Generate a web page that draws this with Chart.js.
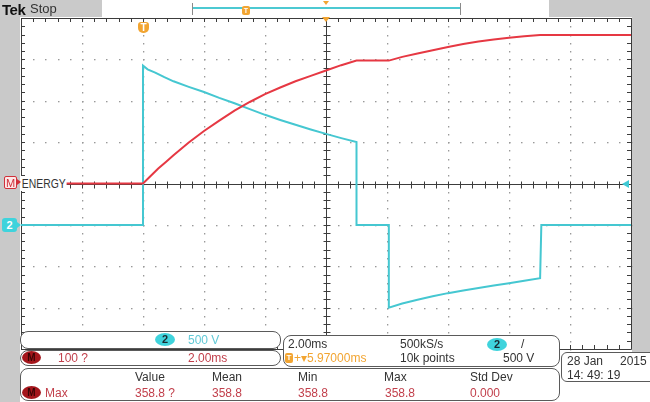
<!DOCTYPE html>
<html><head><meta charset="utf-8">
<script src="https://cdn.jsdelivr.net/npm/chart.js@4/dist/chart.umd.min.js"></script>
<style>
html,body{margin:0;padding:0;background:#fff;}
#wrap{position:relative;width:650px;height:402px;overflow:hidden;font-family:"Liberation Sans",Arial,sans-serif;background:#fff;}
#c{position:absolute;left:0;top:0;}
.a{position:absolute;white-space:nowrap;line-height:1;}
.g{position:absolute;background:#c9c9c9;}
.panel{position:absolute;background:#fff;border:1px solid #5a5a5a;border-radius:8px;box-sizing:border-box;}
.cb{position:absolute;background:#3fd3dc;border-radius:50%;width:20px;height:13px;font:bold 11px "Liberation Sans",Arial,sans-serif;color:#1a2a30;text-align:center;line-height:13px;}
.mb{position:absolute;background:#a4161c;border-radius:50%;width:19px;height:13px;font:bold 10px "Liberation Sans",Arial,sans-serif;color:#3a0505;text-align:center;line-height:13px;}
.t12{font-size:12px;}
.red{color:#c2404c;}
.cy{color:#62c9d6;}
.dk{color:#333;}
.or{color:#f2a532;}
</style></head>
<body>
<div id="wrap">
  <!-- frame / background pieces -->
  <div class="g" style="left:0;top:0;width:102px;height:17px;background:#cacaca"></div>
  <div class="g" style="left:549px;top:0;width:101px;height:17px;"></div>
  <div class="g" style="left:0;top:17px;width:20px;height:385px;"></div>
  <div class="g" style="left:632px;top:17px;width:18px;height:335px;"></div>
  <canvas id="c" width="650" height="402"></canvas>

  <!-- top status bar -->
  <div class="a" style="left:2px;top:1px;font:bold 15px 'Liberation Sans',Arial,sans-serif;color:#111;letter-spacing:-0.5px">Tek</div>
  <div class="a dk" style="left:30px;top:2px;font-size:13px;color:#333">Stop</div>
  <div class="a" style="left:193px;top:7px;width:267px;height:2px;background:#4cc9d2"></div>
  <div class="a" style="left:192px;top:3px;width:1px;height:12px;background:#8a8a8a"></div>
  <div class="a" style="left:460px;top:3px;width:1px;height:12px;background:#8a8a8a"></div>
  <div class="a" style="left:242px;top:6px;width:8px;height:9px;background:#f2a532;border-radius:2px;color:#fff;font:bold 7px Arial;text-align:center;line-height:9px">T</div>
  <div class="a" style="left:323px;top:1px;width:0;height:0;border-left:3px solid transparent;border-right:3px solid transparent;border-top:4px solid #f2a532"></div>

  <!-- graticule markers -->
  <div class="a" style="left:322px;top:17px;width:0;height:0;border-left:4px solid transparent;border-right:4px solid transparent;border-top:5px solid #f2a532"></div>
  <div class="a" style="left:138px;top:22px;width:11px;height:11px;background:#f2a532;border-radius:3px 3px 5px 5px;color:#fff;font:bold 10px Arial;text-align:center;line-height:11px">T</div>
  <div class="a" style="left:622px;top:180px;width:0;height:0;border-top:4px solid transparent;border-bottom:4px solid transparent;border-right:7px solid #3fc9d4"></div>
  <div class="a" style="left:4px;top:176px;width:13px;height:13px;border:1px solid #d0303a;border-radius:2px;background:#fde8e8;color:#d0303a;font:11px 'Liberation Sans',Arial;text-align:center;line-height:13px;box-sizing:border-box">M</div>
  <div class="a" style="left:17px;top:179px;width:0;height:0;border-top:3px solid transparent;border-bottom:3px solid transparent;border-left:4px solid #d0303a"></div>
  <div class="a" style="left:21px;top:176px;background:#fff;font:13px 'Liberation Sans',Arial;color:#333;transform:scaleX(0.8);transform-origin:0 0;padding:0 1px">ENERGY</div>
  <div class="a" style="left:2px;top:218px;width:15px;height:14px;background:#3fd3dc;border-radius:3px;color:#fff;font:bold 11px Arial;text-align:center;line-height:14px">2</div>
  <div class="a" style="left:17px;top:222px;width:0;height:0;border-top:3px solid transparent;border-bottom:3px solid transparent;border-left:4px solid #3fd3dc"></div>

  <!-- readout panels -->
  <div class="panel" style="left:20px;top:331px;width:261px;height:18px;"></div>
  <div class="cb" style="left:155px;top:333px">2</div>
  <div class="a t12 cy" style="left:188px;top:334px">500 V</div>

  <div class="panel" style="left:20px;top:350px;width:261px;height:16px;"></div>
  <div class="mb" style="left:22px;top:351px">M</div>
  <div class="a t12 red" style="left:58px;top:352px">100 ?</div>
  <div class="a t12 red" style="left:188px;top:352px">2.00ms</div>

  <div class="panel" style="left:283px;top:335px;width:277px;height:32px;"></div>
  <div class="a t12 dk" style="left:288px;top:338px">2.00ms</div>
  <div class="a t12 dk" style="left:400px;top:338px">500kS/s</div>
  <div class="cb" style="left:487px;top:338px">2</div>
  <div class="a t12 dk" style="left:521px;top:338px">/</div>
  <div class="a" style="left:285px;top:353px;width:8px;height:10px;background:#f2a532;border-radius:2px;color:#fff;font:bold 8px Arial;text-align:center;line-height:10px">T</div>
  <div class="a t12 or" style="left:294px;top:352px">+▾5.97000ms</div>
  <div class="a t12 dk" style="left:400px;top:352px">10k points</div>
  <div class="a t12 dk" style="left:503px;top:352px">500 V</div>

  <div class="panel" style="left:561px;top:352px;width:95px;height:30px;border-radius:6px"></div>
  <div class="a t12 dk" style="left:567px;top:355px">28 Jan</div>
  <div class="a t12 dk" style="left:620px;top:355px">2015</div>
  <div class="a t12 dk" style="left:567px;top:369px">14: 49: 19</div>

  <div class="panel" style="left:20px;top:368px;width:540px;height:33px;"></div>
  <div class="a t12 dk" style="left:135px;top:371px">Value</div>
  <div class="a t12 dk" style="left:212px;top:371px">Mean</div>
  <div class="a t12 dk" style="left:298px;top:371px">Min</div>
  <div class="a t12 dk" style="left:384px;top:371px">Max</div>
  <div class="a t12 dk" style="left:470px;top:371px">Std Dev</div>
  <div class="mb" style="left:22px;top:386px">M</div>
  <div class="a t12 red" style="left:45px;top:387px">Max</div>
  <div class="a t12 red" style="left:135px;top:387px">358.8 ?</div>
  <div class="a t12 red" style="left:212px;top:387px">358.8</div>
  <div class="a t12 red" style="left:298px;top:387px">358.8</div>
  <div class="a t12 red" style="left:385px;top:387px">358.8</div>
  <div class="a t12 red" style="left:470px;top:387px">0.000</div>
</div>
<script>
// ---- data (time in ms, channel 2 in volts, math ENERGY in "?" units) ----
const ch2Time  = [-10, -6.0, -6.0, -5.85, -5.6, -5.3, -5.0, -4.5, -4.0, -3.5, -3.0, -2.5, -2.0, -1.5, -1.0, -0.5, 0, 0.5, 1.0, 1.0,
                  2.06, 2.06, 2.5, 3.0, 3.5, 4.0, 4.5, 5.0, 5.5, 6.0, 6.5, 7.02, 7.06, 10];
const ch2Volts = [0, 0, 1925, 1880, 1840, 1785, 1735, 1668, 1605, 1535, 1470, 1398, 1330, 1268, 1210, 1153, 1100, 1048, 1000, 0,
                  0, -1000, -950, -905, -863, -825, -792, -762, -733, -705, -675, -645, 0, 0];
const mathTime   = [-10, -6.0, -5.75, -5.5, -5.25, -5.0, -4.5, -4.0, -3.5, -3.0, -2.5, -2.0, -1.5, -1.0, -0.5, 0, 0.5, 1.0,
                    2.06, 2.5, 3.0, 3.5, 4.0, 4.5, 5.0, 5.5, 6.0, 6.5, 7.02, 10];
const mathEnergy = [0, 0, 18, 36, 52, 68, 99, 127, 152, 176, 197, 216, 232, 247, 260, 273, 286, 297,
                    297, 306, 314, 322, 330, 337, 343, 348, 352, 356, 358.8, 358.8];
// graticule: 10 horizontal divisions of 2 ms, 8 vertical divisions
const timeGrid = [-10, -8, -6, -4, -2, 0, 2, 4, 6, 8, 10];
const mathGrid = [-400, -300, -200, -100, 0, 100, 200, 300, 400];

const graticule = {
  id: 'graticule',
  beforeDatasetsDraw(chart) {
    const {ctx, chartArea: ca, scales: {x, yM}} = chart;
    const L = Math.round(ca.left), R = Math.round(ca.right), T = Math.round(ca.top), B = Math.round(ca.bottom);
    ctx.save();
    ctx.fillStyle = '#fff';
    ctx.fillRect(L, T, R - L, B - T);
    const xs = timeGrid.map(v => Math.round(x.getPixelForValue(v)));
    const ys = mathGrid.map(v => Math.round(yM.getPixelForValue(v)));
    const minorX = [], minorY = [];
    for (let i = 0; i <= 50; i++) minorX.push(Math.round(x.getPixelForValue(timeGrid[0] + i * 0.4)));
    for (let i = 0; i <= 40; i++) minorY.push(Math.round(yM.getPixelForValue(mathGrid[0] + i * 20)));
    ctx.fillStyle = '#999';
    xs.forEach((px, i) => {
      if (i === 0 || i === xs.length - 1 || timeGrid[i] === 0) return;
      minorY.forEach(py => ctx.fillRect(px, py, 1.3, 1.5));
    });
    ys.forEach((py, i) => {
      if (i === 0 || i === ys.length - 1 || mathGrid[i] === 0) return;
      minorX.forEach(px => ctx.fillRect(px, py, 1.5, 1.3));
    });
    const x0 = Math.round(x.getPixelForValue(0)) + 0.5;
    const y0 = Math.round(yM.getPixelForValue(0)) + 0.5;
    ctx.strokeStyle = '#3c3c3c';
    ctx.lineWidth = 1;
    ctx.beginPath();
    ctx.moveTo(x0, T); ctx.lineTo(x0, B);
    ctx.moveTo(L, y0); ctx.lineTo(R, y0);
    minorY.forEach(py => { ctx.moveTo(x0 - 3, py + 0.5); ctx.lineTo(x0 + 4, py + 0.5); });
    minorX.forEach(px => { ctx.moveTo(px + 0.5, y0 - 3); ctx.lineTo(px + 0.5, y0 + 4); });
    // border with inward ticks
    ctx.rect(L + 0.5, T + 0.5, R - L, B - T);
    minorX.forEach(px => { ctx.moveTo(px + 0.5, T); ctx.lineTo(px + 0.5, T + 4); ctx.moveTo(px + 0.5, B); ctx.lineTo(px + 0.5, B - 4); });
    minorY.forEach(py => { ctx.moveTo(L, py + 0.5); ctx.lineTo(L + 4, py + 0.5); ctx.moveTo(R, py + 0.5); ctx.lineTo(R - 4, py + 0.5); });
    ctx.stroke();
    ctx.restore();
  }
};

new Chart(document.getElementById('c'), {
  type: 'line',
  data: {
    datasets: [
      {
        label: 'ENERGY',
        data: mathTime.map((t, i) => ({x: t, y: mathEnergy[i]})),
        yAxisID: 'yM',
        borderColor: '#e63843',
        borderWidth: 2,
        pointRadius: 0,
        tension: 0,
        order: 0
      },
      {
        label: 'CH2',
        data: ch2Time.map((t, i) => ({x: t, y: ch2Volts[i]})),
        yAxisID: 'y2',
        borderColor: '#45c7d1',
        borderWidth: 2,
        pointRadius: 0,
        tension: 0,
        order: 1
      }
    ]
  },
  options: {
    responsive: false,
    animation: false,
    devicePixelRatio: 1,
    layout: {padding: {left: 21, right: 19, top: 18, bottom: 53}},
    plugins: {legend: {display: false}, tooltip: {enabled: false}},
    scales: {
      x: {type: 'linear', min: -10, max: 10, display: false},
      yM: {type: 'linear', min: -400, max: 400, display: false},
      y2: {type: 'linear', min: -1500, max: 2500, display: false}
    }
  },
  plugins: [graticule]
});
</script>
</body></html>
